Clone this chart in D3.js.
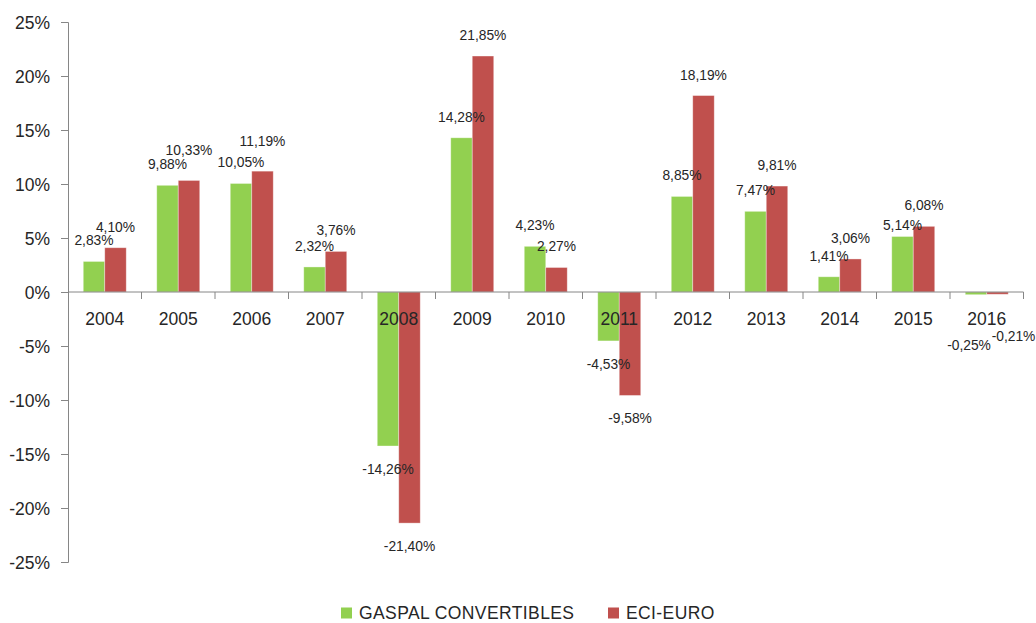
<!DOCTYPE html>
<html>
<head>
<meta charset="utf-8">
<script src="https://cdn.jsdelivr.net/npm/d3@7"></script>
<style>
  html, body { margin: 0; padding: 0; background: #ffffff; }
  svg { display: block; }
  text { font-family: "Liberation Sans", Arial, sans-serif; }
</style>
</head>
<body>
<svg id="chart" width="1036" height="623"></svg>
<script>
// ---- data ----
const years = ["2004","2005","2006","2007","2008","2009","2010","2011","2012","2013","2014","2015","2016"];
const seriesNames = ["GASPAL CONVERTIBLES", "ECI-EURO"];
const gaspal = [2.83, 9.88, 10.05, 2.32, -14.26, 14.28, 4.23, -4.53, 8.85, 7.47, 1.41, 5.14, -0.25];
const eciEuro = [4.10, 10.33, 11.19, 3.76, -21.40, 21.85, 2.27, -9.58, 18.19, 9.81, 3.06, 6.08, -0.21];
const yTicks = [-25, -20, -15, -10, -5, 0, 5, 10, 15, 20, 25];

// ---- styling / layout ----
const colors = ["#92D050", "#C0504D"];
const axisColor = "#868686";
const textColor = "#262626";
const plotLeft = 68, plotRight = 1023.5, plotTop = 22, plotBottom = 562;

const svg = d3.select("#chart");

const x0 = d3.scaleBand().domain(years).range([plotLeft, plotRight]).padding(0);
const x1 = d3.scaleBand().domain(seriesNames).range([0, x0.bandwidth()]).paddingInner(0).paddingOuter(0.71);
const y = d3.scaleLinear().domain([-25, 25]).range([plotBottom, plotTop]);

const values = [gaspal, eciEuro];

// label nudges (layout adjustments mimicking the original placement)
const nudge = {
  "1|2005": [0, -9], "1|2006": [0, -9],
  "0|2015": [0, 10],
  "0|2016": [-7, 27], "1|2016": [16, 19]
};

// bars
seriesNames.forEach((s, si) => {
  const g = svg.append("g");
  g.selectAll("rect").data(years).join("rect")
    .attr("x", (d) => x0(d) + x1(s))
    .attr("width", x1.bandwidth())
    .attr("y", (d, i) => Math.min(y(values[si][i]), y(0)))
    .attr("height", (d, i) => Math.abs(y(values[si][i]) - y(0)))
    .attr("fill", colors[si])
    .attr("stroke", "rgba(255,255,255,0.45)")
    .attr("stroke-width", 0.8);
});

// y axis
const yAxis = d3.axisLeft(y)
  .tickValues(yTicks)
  .tickSize(7)
  .tickPadding(11)
  .tickFormat(d => d + "%");
const ya = svg.append("g").attr("transform", `translate(${plotLeft},0)`).call(yAxis);
ya.select(".domain").attr("stroke", axisColor).attr("stroke-width", 1);
ya.selectAll(".tick line").attr("stroke", axisColor);
ya.selectAll(".tick text")
  .attr("fill", textColor)
  .style("font-size", "17.5px")
  .style("font-family", "'Liberation Sans', Arial, sans-serif")
  .attr("dy", "0.36em");

// x axis (category boundaries)
const xa = svg.append("g");
xa.append("line")
  .attr("x1", plotLeft).attr("x2", plotRight)
  .attr("y1", y(0)).attr("y2", y(0))
  .attr("stroke", axisColor).attr("stroke-width", 1);
xa.selectAll("line.tk").data(years).join("line")
  .attr("class", "tk")
  .attr("x1", d => x0(d) + x0.bandwidth()).attr("x2", d => x0(d) + x0.bandwidth())
  .attr("y1", y(0)).attr("y2", y(0) + 7)
  .attr("stroke", axisColor);

// data labels
seriesNames.forEach((s, si) => {
  svg.append("g").selectAll("text").data(years).join("text")
    .attr("x", (d) => x0(d) + x1(s) + x1.bandwidth() / 2 + (nudge[si + "|" + d] || [0, 0])[0])
    .attr("y", (d, i) => {
      const v = values[si][i];
      const base = v >= 0 ? y(v) - 21 : y(v) + 23;
      return base + (nudge[si + "|" + d] || [0, 0])[1];
    })
    .attr("dy", "0.36em")
    .attr("text-anchor", "middle")
    .attr("fill", textColor)
    .style("font-size", "13.8px")
    .text((d, i) => values[si][i].toFixed(2).replace(".", ",") + "%");
});

// x category labels (drawn on top of bars)
svg.append("g").selectAll("text").data(years).join("text")
  .attr("x", d => x0(d) + x0.bandwidth() / 2)
  .attr("y", y(0) + 27)
  .attr("dy", "0.36em")
  .attr("text-anchor", "middle")
  .attr("fill", textColor)
  .style("font-size", "17.5px")
  .text(d => d);

// legend
const legendItems = [
  { x: 341, name: seriesNames[0], color: colors[0] },
  { x: 608, name: seriesNames[1], color: colors[1] }
];
const lg = svg.append("g");
legendItems.forEach(it => {
  lg.append("rect").attr("x", it.x).attr("y", 607.5).attr("width", 11).attr("height", 11).attr("fill", it.color);
  lg.append("text").attr("x", it.x + 18).attr("y", 613).attr("dy", "0.36em")
    .attr("fill", textColor).style("font-size", "17.5px").style("letter-spacing", "0.4px").text(it.name);
});
</script>
</body>
</html>
